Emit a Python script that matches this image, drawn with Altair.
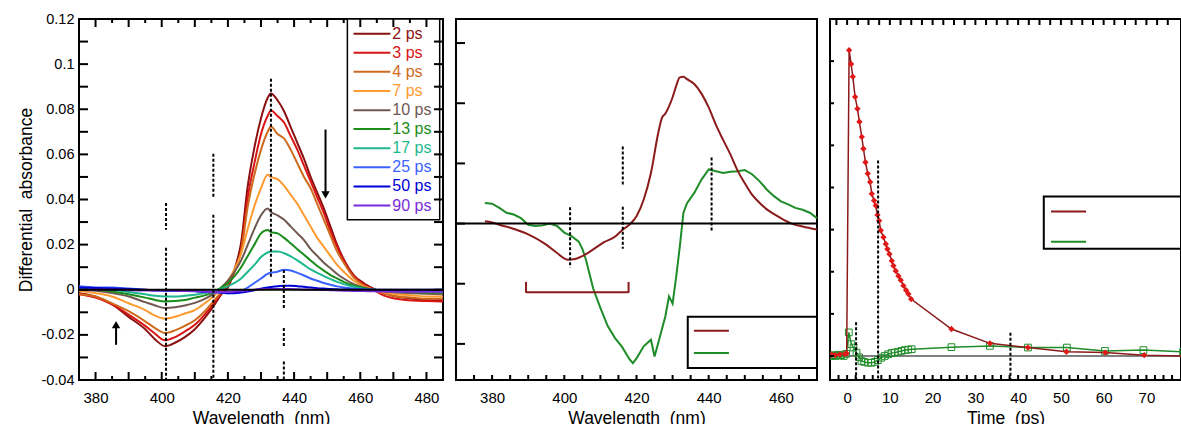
import altair as alt
import pandas as pd

FONT = "Liberation Sans"
BLUE = "#2424E8"
GREEN = "#1E8C28"
DRED = "#8B1A1A"

# ---------------- Panel A data ----------------
WL = [375, 380, 385, 390, 395, 398, 401, 404, 407, 410, 413, 416, 418, 420, 422, 424, 426, 428, 430, 432,
      433, 435, 437, 439, 441, 443, 445, 447, 449, 451, 453, 455, 458, 461, 464, 467, 471, 476, 480, 485]
A_SERIES = ["2 ps", "3 ps", "4 ps", "7 ps", "10 ps", "13 ps", "17 ps", "25 ps", "50 ps", "90 ps"]
A_COLORS = ["#8B1010", "#D91414", "#CF6A1C", "#FF9A2E", "#705850", "#1A8C1A", "#1DB88C", "#3A62FF", "#0000D8", "#7A2ADB"]
PS2 = [-0.0015, -0.003, -0.0065, -0.012, -0.0175, -0.022, -0.025, -0.0235, -0.021, -0.0175, -0.0125, -0.0065, -0.002, 0.001, 0.009, 0.021,
       0.046, 0.063, 0.076, 0.085, 0.087, 0.084, 0.079, 0.072, 0.065, 0.058, 0.050, 0.043, 0.036, 0.028, 0.020, 0.0135, 0.0065, 0.003, 0.0005,
       -0.0015, -0.003, -0.004, -0.0045, -0.0046]
PS3 = [-0.002, -0.0035, -0.0065, -0.011, -0.016, -0.0195, -0.0224, -0.021, -0.0185, -0.0155, -0.011, -0.0055, -0.0015, 0.002, 0.008, 0.018,
       0.041, 0.056, 0.069, 0.077, 0.0794, 0.077, 0.074, 0.068, 0.062, 0.055, 0.048, 0.041, 0.034, 0.026, 0.019, 0.013, 0.006, 0.0025, 0.0,
       -0.0025, -0.004, -0.0048, -0.005, -0.0052]
PS4 = [-0.002, -0.003, -0.006, -0.0095, -0.014, -0.017, -0.0192, -0.018, -0.016, -0.0135, -0.0095, -0.0045, -0.001, 0.003, 0.009, 0.017,
       0.037, 0.051, 0.062, 0.070, 0.0723, 0.069, 0.067, 0.062, 0.056, 0.050, 0.045, 0.038, 0.031, 0.024, 0.017, 0.012, 0.0055, 0.002, 0.0,
       -0.0015, -0.003, -0.0035, -0.004, -0.004]
PS7 = [-0.0005, -0.0015, -0.003, -0.006, -0.009, -0.0115, -0.0128, -0.012, -0.0105, -0.009, -0.006, -0.0025, 0.0005, 0.004, 0.009, 0.016,
       0.027, 0.037, 0.045, 0.051, 0.050, 0.049, 0.046, 0.042, 0.038, 0.033, 0.028, 0.023, 0.019, 0.015, 0.011, 0.008, 0.004, 0.0015, 0.0,
       -0.001, -0.002, -0.0025, -0.003, -0.003]
PS10 = [0.0, -0.0005, -0.0015, -0.003, -0.0055, -0.007, -0.0081, -0.0078, -0.007, -0.0058, -0.004, -0.0015, 0.001, 0.004, 0.008, 0.013,
        0.020, 0.027, 0.033, 0.036, 0.0345, 0.033, 0.031, 0.028, 0.025, 0.022, 0.018, 0.015, 0.012, 0.0095, 0.007, 0.005, 0.0025, 0.001, 0.0,
        -0.0005, -0.0012, -0.0015, -0.0018, -0.002]
PS13 = [0.0005, 0.0, -0.0008, -0.002, -0.0035, -0.0045, -0.0052, -0.005, -0.0045, -0.0035, -0.0025, -0.0008, 0.001, 0.003, 0.006, 0.010,
        0.015, 0.020, 0.025, 0.0265, 0.0255, 0.025, 0.023, 0.0205, 0.018, 0.0155, 0.013, 0.0105, 0.0085, 0.0065, 0.005, 0.0035, 0.0018, 0.0008,
        0.0, -0.0003, -0.0008, -0.001, -0.0012, -0.0012]
PS17 = [0.001, 0.0005, 0.0, -0.001, -0.002, -0.0027, -0.003, -0.003, -0.0027, -0.0022, -0.0015, -0.0005, 0.0005, 0.0015, 0.003, 0.005,
        0.008, 0.011, 0.0145, 0.0165, 0.017, 0.017, 0.0162, 0.0148, 0.013, 0.011, 0.009, 0.0075, 0.006, 0.0047, 0.0035, 0.0025, 0.0013, 0.0005,
        0.0, -0.0002, -0.0005, -0.0007, -0.0008, -0.0008]
PS25 = [0.0015, 0.001, 0.001, 0.0005, 0.0, -0.0003, -0.0005, -0.0005, -0.0005, -0.0007, -0.001, -0.0012, -0.0013, -0.0015, -0.0012, -0.0005,
        0.001, 0.003, 0.005, 0.007, 0.0075, 0.008, 0.0089, 0.0085, 0.0075, 0.0063, 0.005, 0.004, 0.003, 0.0022, 0.0015, 0.001, 0.0005, 0.0002,
        0.0, -0.0002, -0.0003, -0.0005, -0.0005, -0.0005]
PS50 = [0.001, 0.0008, 0.0006, 0.0003, 0.0, -0.0002, -0.0002, -0.0003, -0.0003, -0.0005, -0.0008, -0.001, -0.0012, -0.0015, -0.0015, -0.0012,
        -0.0008, -0.0002, 0.0005, 0.001, 0.0012, 0.0015, 0.0018, 0.0018, 0.0016, 0.0013, 0.001, 0.0007, 0.0005, 0.0003, 0.0002, 0.0001, 0.0, 0.0,
        0.0, 0.0, 0.0, 0.0, 0.0, 0.0]
PS90 = [0.0, 0.0, 0.0, -0.0002, -0.0003, -0.0003, -0.0003, -0.0004, -0.0005, -0.0006, -0.0008, -0.001, -0.001, -0.001, -0.0008, -0.0005,
        -0.0003, 0.0, 0.0002, 0.0003, 0.0003, 0.0003, 0.0003, 0.0003, 0.0002, 0.0001, 0.0, 0.0, -0.0001, -0.0002, -0.0003, -0.0004, -0.0005,
        -0.0006, -0.0007, -0.0008, -0.0009, -0.0009, -0.0009, -0.0009]
A_VALUES = [PS2, PS3, PS4, PS7, PS10, PS13, PS17, PS25, PS50, PS90]

# ---------------- Panel B data ----------------
B_WL1 = [378, 380, 382, 385, 390, 395, 398, 401, 403, 405, 408, 411, 414, 416, 418, 420, 422, 424, 426, 427, 428, 430, 431, 432, 433,
         434, 436, 438, 440, 442, 444, 446, 448, 450, 452, 454, 456, 458, 460, 463, 466, 470]
B_SV1 = [0.04, 0.02, -0.02, -0.07, -0.18, -0.35, -0.49, -0.6, -0.59, -0.54, -0.43, -0.31, -0.22, -0.11, -0.02, 0.12, 0.4, 0.84, 1.5, 1.75,
         1.83, 2.1, 2.29, 2.43, 2.44, 2.4, 2.32, 2.16, 1.93, 1.64, 1.39, 1.15, 0.88, 0.67, 0.48, 0.35, 0.24, 0.16, 0.09, 0.0, -0.05, -0.1]
B_WL2 = [378, 380, 382, 384, 386, 388, 390, 392, 394, 396, 398, 400, 402, 404, 405, 406, 408, 410, 412, 414, 416, 418, 419, 420, 422, 424,
         425, 426, 428, 429, 430, 431, 432, 433, 434, 436, 438, 440, 442, 444, 446, 448, 450, 452, 454, 456, 458, 460, 462, 464, 466, 468, 470]
B_SV2 = [0.34, 0.33, 0.26, 0.18, 0.15, 0.09, -0.02, -0.04, -0.03, 0.0, -0.04, -0.15, -0.21, -0.3, -0.42, -0.6, -1.08, -1.4, -1.7, -1.9,
         -2.05, -2.25, -2.32, -2.24, -2.04, -1.93, -2.21, -1.99, -1.54, -1.21, -1.33, -0.88, -0.38, 0.18, 0.34, 0.51, 0.73, 0.9, 0.87, 0.84,
         0.86, 0.87, 0.89, 0.82, 0.71, 0.57, 0.46, 0.37, 0.32, 0.26, 0.23, 0.18, 0.09]

# ---------------- Panel C data ----------------
C_T1 = [-3.6, -2.8, -1.7, -0.5, -0.1, 0.47, 0.94, 1.33, 1.87, 2.42, 2.88, 3.43, 3.82, 4.29, 4.83, 5.38, 5.77, 6.31, 6.7, 7.1, 7.48,
        7.87, 8.5, 9.05, 9.43, 9.9, 10.45, 10.84, 11.38, 12.0, 12.55, 13.17, 13.8, 14.34, 14.97, 24.4, 33.4, 42.3, 51.3, 60.4, 69.5, 78.6]
C_SV1 = [0.03, 0.02, 0.04, 0.05, 0.06, 7.26, 6.93, 6.63, 6.15, 5.87, 5.56, 5.2, 4.92, 4.6, 4.33, 4.13, 3.85, 3.69, 3.57, 3.35, 3.21,
         2.98, 2.82, 2.66, 2.54, 2.42, 2.26, 2.14, 2.02, 1.9, 1.8, 1.67, 1.56, 1.47, 1.35, 0.64, 0.3, 0.2, 0.1, 0.08, 0.02, 0.0]
C_T2 = [-3.8, -3.2, -2.6, -2.0, -1.4, -0.8, -0.2, 0.4, 1.0, 1.5, 2.2, 2.8, 3.35, 4.0, 4.9, 5.7, 6.5, 7.2, 8.0, 8.8, 9.6, 10.4, 11.15,
        11.9, 12.7, 13.5, 14.3, 15.1, 24.4, 33.4, 42.3, 51.4, 60.3, 69.3, 78.6]
C_SV2 = [0.0, 0.02, 0.0, 0.03, 0.02, 0.0, 0.05, 0.56, 0.28, 0.2, 0.08, -0.03, -0.12, -0.14, -0.16, -0.16, -0.14, -0.1, -0.04, 0.0, 0.04,
         0.07, 0.08, 0.1, 0.12, 0.14, 0.15, 0.16, 0.21, 0.24, 0.2, 0.2, 0.12, 0.14, 0.1]

# tick positions
A_XLAB = [380, 400, 420, 440, 460, 480]
A_YLAB = [-0.04, -0.02, 0, 0.02, 0.04, 0.06, 0.08, 0.1, 0.12]
A_XMAJ = [380, 390, 400, 410, 420, 430, 440, 450, 460, 470, 480]
A_XMIN = [385, 395, 405, 415, 425, 435, 445, 455, 465, 475]
A_YT = [-0.03, -0.02, -0.01, 0, 0.01, 0.02, 0.03, 0.04, 0.05, 0.06, 0.07, 0.08, 0.09, 0.1, 0.11]
B_XLAB = [380, 400, 420, 440, 460]
B_XT = [375, 380, 385, 390, 395, 400, 405, 410, 415, 420, 425, 430, 435, 440, 445, 450, 455, 460, 465]
B_YT = [-2, -1, 0, 1, 2, 3]
C_XLAB = [0, 10, 20, 30, 40, 50, 60, 70]
C_XT = [-2, 0, 2, 4, 6, 8, 10, 12, 14, 16, 18, 20, 22, 24, 26, 28, 30, 32, 34, 36, 38, 40, 42, 44, 46, 48, 50, 52, 54, 56, 58, 60,
        62, 64, 66, 68, 70, 72, 74, 76]
C_XTOP = [-2.5, 0, 2.5, 5, 7.5, 10, 12.5, 15, 17.5, 20, 22.5, 25, 27.5, 30, 32.5, 35, 37.5, 40, 42.5, 45, 47.5, 50, 52.5, 55, 57.5,
          60, 62.5, 65, 67.5, 70, 72.5, 75]
C_YT = [0, 1, 2, 3, 4, 5, 6, 7]

H = 361
WA, WB, WC = 364, 361, 351
C_MAX = 78.09


class Panel:
    def __init__(self, xdom, ydom, width, xaxis, yaxis):
        self.xs = alt.Scale(domain=xdom, nice=False, zero=False)
        self.ys = alt.Scale(domain=ydom, nice=False, zero=False)
        self.xdom, self.ydom = xdom, ydom
        self.w = width
        self.xa, self.ya = xaxis, yaxis

    def x(self, f):
        return alt.X(f + ":Q", scale=self.xs, axis=self.xa)

    def y(self, f):
        return alt.Y(f + ":Q", scale=self.ys, axis=self.ya)

    def text(self, rows, align="center", italic=False):
        df = pd.DataFrame(rows, columns=["px", "py", "t", "c", "s"])
        return alt.Chart(df).mark_text(align=align, baseline="middle",
                                       fontStyle="italic" if italic else "normal").encode(
            x=self.x("px"), y=self.y("py"), text="t:N",
            color=alt.Color("c:N", scale=None), size=alt.Size("s:Q", scale=None))

    def vrules(self, rows, width=2, dash=None, color="black"):
        df = pd.DataFrame(rows, columns=["px", "py1", "py2"])
        kw = {"strokeDash": dash} if dash else {}
        return alt.Chart(df).mark_rule(color=color, strokeWidth=width, **kw).encode(
            x=self.x("px"), y=self.y("py1"), y2=alt.Y2("py2"))

    def hrules(self, rows, width=2, color="black"):
        df = pd.DataFrame(rows, columns=["px1", "px2", "py"])
        return alt.Chart(df).mark_rule(color=color, strokeWidth=width).encode(
            x=self.x("px1"), x2=alt.X2("px2"), y=self.y("py"))

    def zero(self, width=2):
        return alt.Chart(pd.DataFrame({"z": [0]})).mark_rule(color="black", strokeWidth=width).encode(y=self.y("z"))

    def ticks(self, vals, side, length, thick=2):
        if side in ("bottom", "top"):
            dy = length * (self.ydom[1] - self.ydom[0]) / H
            e = self.ydom[0] if side == "bottom" else self.ydom[1]
            e2 = e + dy if side == "bottom" else e - dy
            return self.vrules([(v, e, e2) for v in vals], width=thick)
        dx = length * (self.xdom[1] - self.xdom[0]) / self.w
        e = self.xdom[0] if side == "left" else self.xdom[1]
        e2 = e + dx if side == "left" else e - dx
        return self.hrules([(e, e2, v) for v in vals], width=thick)

    def box(self, x1, x2, y1, y2, sw):
        df = pd.DataFrame({"bx1": [x1], "bx2": [x2], "by1": [y1], "by2": [y2]})
        return alt.Chart(df).mark_rect(fill="white", stroke="black", strokeWidth=sw).encode(
            x=self.x("bx1"), x2=alt.X2("bx2"), y=self.y("by1"), y2=alt.Y2("by2"))


def xaxis(values, title):
    return alt.Axis(values=values, ticks=False, domain=False, grid=False, labelFontSize=15,
                    labelPadding=10, labelOverlap=False, format="d", title=title, titleFontSize=17.5, titlePadding=4)


# ================= Panel A =================
PA = Panel([375, 485], [-0.04, 0.12], WA, xaxis(A_XLAB, "Wavelength\u00a0\u00a0(nm)"),
           alt.Axis(values=A_YLAB, ticks=False, domain=False, grid=False, labelFontSize=14.5,
                    labelPadding=5, labelOverlap=False, labelExpr="'' + datum.value",
                    title="Differential\u00a0\u00a0absorbance", titleFontSize=17.5, titlePadding=5))
la = []
for name, col, vals in zip(A_SERIES, A_COLORS, A_VALUES):
    df = pd.DataFrame({"wl": WL, "v": vals})
    la.append(alt.Chart(df).mark_line(color=col, strokeWidth=2, interpolate="monotone").encode(
        x=PA.x("wl"), y=PA.y("v")))
la.append(PA.zero(2))
la.append(PA.vrules([(401.3, 0.0385, 0.0266), (401.3, 0.0186, -0.04), (415.6, 0.0603, 0.0412), (415.6, 0.0332, -0.04),
                     (433.0, 0.0935, 0.0058), (436.9, 0.0087, -0.0081), (436.9, -0.017, -0.0251), (436.9, -0.0318, -0.04)],
                    width=2, dash=[3, 2]))
la.append(PA.vrules([(449.5, 0.071, 0.0421), (386.2, -0.0244, -0.0155)], width=2))
la.append(alt.Chart(pd.DataFrame({"ax": [449.5], "ay": [0.0421]})).mark_point(
    shape="triangle-down", filled=True, color="black", size=70, opacity=1).encode(x=PA.x("ax"), y=PA.y("ay")))
la.append(alt.Chart(pd.DataFrame({"ax": [386.2], "ay": [-0.0155]})).mark_point(
    shape="triangle-up", filled=True, color="black", size=70, opacity=1).encode(x=PA.x("ax"), y=PA.y("ay")))
la.append(PA.text([("A", 358.2, 0.109, "black", 29),
                   ("NO-liganded ferrous", 406.3, 0.1095, "black", 18.5),
                   ("20 °C", 406.3, 0.0918, GREEN, 17.5),
                   ("433", 433.0, 0.0966, "black", 16),
                   ("6c-His-NO", 415.0, 0.0643, BLUE, 15),
                   ("5c-NO", 396.0, 0.0439, BLUE, 15),
                   ("416", 415.5, 0.0381, "black", 16),
                   ("401", 401.0, 0.0222, "black", 16),
                   ("436", 437.0, -0.012, "black", 16),
                   ("5c-His", 442.2, -0.0275, BLUE, 15)]))
la.append(PA.text([("H-NOX", 402.05, 0.1006, "black", 18),
                   ("5c-His +", 438.3, 0.0887, BLUE, 14),
                   ("4c heme", 438.3, 0.0811, BLUE, 14)], align="left"))
la.append(PA.text([("Cb", 393.6, 0.1006, "black", 18)], align="left", italic=True))
la.append(PA.text([("time", 385.4, -0.0297, "black", 17)], italic=True))
LEG_Y = [0.1135, 0.1050, 0.0966, 0.0881, 0.0796, 0.0712, 0.0627, 0.0543, 0.0458, 0.0373]
la.append(PA.box(456.1, 484.0, 0.031, 0.12, 1.5))
for yy, c in zip(LEG_Y, A_COLORS):
    la.append(PA.hrules([(457.96, 469.1, yy)], width=2, color=c))
la.append(PA.text([(469.7, yy, n, c, 16) for yy, n, c in zip(LEG_Y, A_SERIES, A_COLORS)], align="left"))
la.append(PA.ticks(A_XMAJ, "bottom", 8))
la.append(PA.ticks(A_XMIN, "bottom", 4))
la.append(PA.ticks(A_XMAJ, "top", 8))
la.append(PA.ticks(A_XMIN, "top", 4))
la.append(PA.ticks(A_YT, "left", 9))
la.append(PA.ticks(A_YT, "right", 9))
chartA = alt.layer(*la).properties(width=WA, height=H)

# ================= Panel B =================
PB = Panel([370, 470], [-2.6, 3.4], WB, xaxis(B_XLAB, "Wavelength\u00a0\u00a0(nm)"), None)
lb = []
lb.append(alt.Chart(pd.DataFrame({"wl": B_WL2, "v": B_SV2})).mark_line(color=GREEN, strokeWidth=2).encode(
    x=PB.x("wl"), y=PB.y("v")))
lb.append(alt.Chart(pd.DataFrame({"wl": B_WL1, "v": B_SV1})).mark_line(color=DRED, strokeWidth=2,
                                                                        interpolate="monotone").encode(
    x=PB.x("wl"), y=PB.y("v")))
lb.append(PB.zero(2))
lb.append(PB.vrules([(401.6, 0.27, -0.73), (416.2, 1.28, 0.65), (416.2, 0.28, -0.42), (440.8, 1.1, -0.15)],
                    width=2, dash=[3, 2]))
lb.append(PB.hrules([(389.4, 417.8, -1.14)], width=2, color=DRED))
lb.append(PB.vrules([(389.4, -0.97, -1.15), (417.8, -0.97, -1.15)], width=2, color=DRED))
lb.append(PB.text([("B", 460.2, 3.0, "black", 28),
                   ("20 °C", 394.1, 2.717, GREEN, 17.5),
                   ("SVD spectral", 394.1, 2.267, "black", 16),
                   ("components", 394.1, 1.967, "black", 16),
                   ("432", 432.1, 2.633, DRED, 16),
                   ("5c-His +", 448.3, 2.233, DRED, 14),
                   ("4c-heme", 448.4, 1.95, DRED, 14),
                   ("6c-(His)-NO", 410.6, 1.367, BLUE, 15),
                   ("440", 439.4, 1.217, GREEN, 16),
                   ("401", 402.1, 0.45, DRED, 16),
                   ("416", 415.4, 0.45, DRED, 16),
                   ("5c-His", 443.7, -0.383, BLUE, 15),
                   ("5c-NO", 396.8, -0.9, BLUE, 15),
                   ("4c-Heme", 432.3, -1.05, BLUE, 15),
                   ("NO dissociation", 402.8, -1.333, DRED, 14)]))
lb.append(PB.text([("NO-", 377.84, 3.05, "black", 18), ("H-NOX", 394.74, 3.05, "black", 18)], align="left"))
lb.append(PB.text([("Cb", 386.98, 3.05, "black", 18)], align="left", italic=True))
lb.append(PB.box(434.2, 470, -2.4, -1.55, 2))
lb.append(PB.hrules([(435.9, 445.6, -1.783)], width=2, color=DRED))
lb.append(PB.hrules([(435.9, 445.6, -2.15)], width=2, color=GREEN))
lb.append(PB.text([("SV1 = 1.107", 446.6, -1.783, DRED, 14), ("SV2 = 0.048", 446.6, -2.15, GREEN, 14)], align="left"))
lb.append(PB.ticks(B_XT, "bottom", 5))
lb.append(PB.ticks(B_YT, "left", 9))
chartB = alt.layer(*lb).properties(width=WB, height=H)

# ================= Panel C =================
PC = Panel([-4, C_MAX], [-0.57, 8.0], WC, xaxis(C_XLAB, "Time\u00a0\u00a0(ps)"), None)
lc = []
lc.append(PC.zero(1))
lc.append(alt.Chart(pd.DataFrame({"t": C_T2, "v": C_SV2})).mark_line(color=GREEN, strokeWidth=1.5, clip=True).encode(
    x=PC.x("t"), y=PC.y("v")))
lc.append(alt.Chart(pd.DataFrame({"t": C_T2, "v": C_SV2})).mark_point(shape="square", filled=False, color=GREEN,
                                                                      size=45, strokeWidth=1, opacity=1,
                                                                      clip=True).encode(x=PC.x("t"), y=PC.y("v")))
lc.append(alt.Chart(pd.DataFrame({"t": C_T1, "v": C_SV1})).mark_line(color=DRED, strokeWidth=1.5, clip=True).encode(
    x=PC.x("t"), y=PC.y("v")))
lc.append(alt.Chart(pd.DataFrame({"t": C_T1, "v": C_SV1})).mark_point(shape="diamond", filled=True, color="#E01818",
                                                                      size=40, opacity=1, clip=True).encode(
    x=PC.x("t"), y=PC.y("v")))
lc.append(PC.vrules([(2.1, 0.8, -0.57), (7.25, 4.64, -0.57), (38.2, 0.55, -0.57)], width=2, dash=[3, 2]))
lc.append(PC.text([("C", 12.6, 7.38, "black", 28),
                   ("20 °C", 61.2, 6.857, GREEN, 17.5),
                   ("SVD kinetic", 61.2, 6.07, "black", 16),
                   ("components", 61.2, 5.64, "black", 16),
                   ("Singular values", 61.7, 4.21, "black", 16)]))
lc.append(PC.text([("NO-", 47.4, 7.33, "black", 18), ("H-NOX", 61.67, 7.33, "black", 18),
                   ("τ", 7.05, 5.04, "black", 18), ("G", 9.0, 4.88, "black", 14),
                   ("= 7.1 ± 0.5 ps", 12.3, 5.06, "black", 18),
                   ("τ", -1.7, 1.55, GREEN, 16), ("ex", 0.1, 1.4, GREEN, 12), ("=", 3.74, 1.58, GREEN, 14),
                   ("2 ps", -1.94, 1.03, GREEN, 14),
                   ("τ", 31.27, 1.31, GREEN, 18), ("His", 32.8, 1.14, GREEN, 14), ("= 38 ps", 38.8, 1.33, GREEN, 18)],
                  align="left"))
lc.append(PC.text([("Cb", 55.12, 7.33, "black", 18)], align="left", italic=True))
lc.append(PC.box(46.0, C_MAX, 2.548, 3.786, 2))
lc.append(PC.hrules([(47.7, 55.9, 3.43)], width=2, color=DRED))
lc.append(PC.hrules([(47.7, 55.9, 2.71)], width=2, color=GREEN))
lc.append(PC.text([("SV1 = 1.107", 56.76, 3.43, DRED, 16), ("SV2 = 0.048", 56.76, 2.71, GREEN, 16)], align="left"))
lc.append(PC.ticks(C_XT, "bottom", 5))
lc.append(PC.ticks(C_XTOP, "top", 6))
lc.append(PC.ticks(C_YT, "left", 4))
chartC = alt.layer(*lc).properties(width=WC, height=H)

# layout from the plot sizes only (flush bounds, no autosize): panels start at x = 79, 456, 830
chart = alt.hconcat(chartA, chartB, chartC, spacing=13, bounds="flush").resolve_scale(
    x="independent", y="independent").properties(
    padding={"left": 79, "top": 19, "right": 1102, "bottom": 44},
    autosize=alt.AutoSizeParams(type="none")
).configure(font=FONT).configure_view(stroke="black", strokeWidth=2).configure_axis(
    labelFont=FONT, titleFont=FONT, labelColor="black", titleColor="black", titleFontWeight="normal")

chart.save("out.html", embed_options={"renderer": "svg", "actions": False})
